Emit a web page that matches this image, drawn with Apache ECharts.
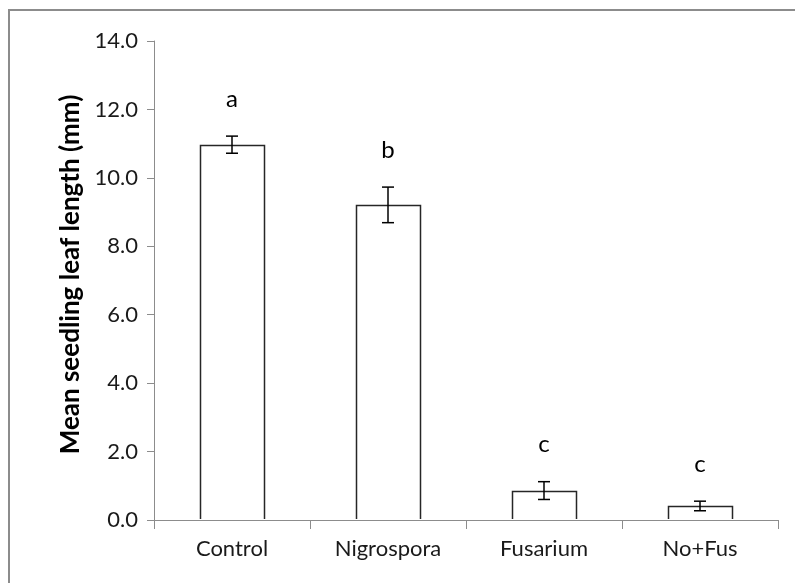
<!DOCTYPE html>
<html>
<head>
<meta charset="utf-8">
<script src="https://cdn.jsdelivr.net/npm/echarts@6/dist/echarts.min.js"></script>
<style>
html,body{margin:0;padding:0;background:#fff;}
#frame{position:absolute;left:8px;top:9px;width:800px;height:600px;border:2px solid #8c8c8c;box-sizing:border-box;}
#chart{position:absolute;left:0;top:0;width:795px;height:583px;}
</style>
</head>
<body>
<div id="frame"></div>
<div id="chart"></div>
<script>
const categories = ['Control', 'Nigrospora', 'Fusarium', 'No+Fus'];
const means = [10.97, 9.21, 0.86, 0.41];
const errors = [0.25, 0.52, 0.26, 0.14];
const letters = ['a', 'b', 'c', 'c'];
const yTicks = [0, 2, 4, 6, 8, 10, 12, 14];

const FONT = 'Lato';
const chart = echarts.init(document.getElementById('chart'), null, {renderer: 'canvas'});

const option = {
  animation: false,
  backgroundColor: 'transparent',
  grid: {left: 154, right: 17, top: 41, bottom: 63, containLabel: false},
  xAxis: {
    type: 'category',
    data: categories,
    axisLine: {lineStyle: {color: '#8c8c8c', width: 1}},
    axisTick: {show: true, length: 9, lineStyle: {color: '#8c8c8c'}, alignWithLabel: false},
    axisLabel: {color: '#1a1a1a', fontFamily: FONT, fontSize: 22, margin: 18}
  },
  yAxis: {
    type: 'value',
    min: yTicks[0],
    max: yTicks[yTicks.length - 1],
    interval: 2,
    name: 'Mean seedling leaf length (mm)',
    nameLocation: 'middle',
    nameGap: 70,
    nameTextStyle: {color: '#000', fontFamily: FONT, fontSize: 26, fontWeight: 'bold', padding: [0, 0, 0, 12]},
    axisLine: {show: true, lineStyle: {color: '#8c8c8c', width: 1}},
    axisTick: {show: true, length: 7, lineStyle: {color: '#8c8c8c'}},
    splitLine: {show: false},
    axisLabel: {color: '#1a1a1a', fontFamily: FONT, fontSize: 22, margin: 16,
      formatter: v => v.toFixed(1)}
  },
  series: [
    {
      type: 'custom',
      data: means.map((m, i) => [i, m]),
      renderItem: function (params, api) {
        const top = api.coord([api.value(0), api.value(1)]);
        const base = api.coord([api.value(0), 0]);
        const band = api.size([1, 0])[0];
        const hw = band * 0.406 / 2;
        const x0 = Math.round(top[0] - hw) + 0.5, x1 = Math.round(top[0] + hw) + 0.5;
        const yt = Math.round(top[1]) + 0.5, yb = base[1] - 1;
        return {
          type: 'group',
          children: [
            {type: 'rect', shape: {x: x0, y: yt, width: x1 - x0, height: yb - yt}, style: {fill: '#fff'}},
            {type: 'polyline', shape: {points: [[x0, yb], [x0, yt], [x1, yt], [x1, yb]]},
              style: {stroke: '#262626', lineWidth: 1.5, fill: null}}
          ]
        };
      },
      z: 2
    },
    {
      type: 'custom',
      data: means.map((m, i) => [i, m - errors[i], m + errors[i]]),
      renderItem: function (params, api) {
        const x = api.value(0);
        const lo = api.coord([x, api.value(1)]);
        const hi = api.coord([x, api.value(2)]);
        const w = 6;
        const style = {stroke: '#000', lineWidth: 1.5};
        return {
          type: 'group',
          children: [
            {type: 'line', shape: {x1: lo[0], y1: lo[1], x2: hi[0], y2: hi[1]}, style},
            {type: 'line', shape: {x1: lo[0] - w, y1: lo[1], x2: lo[0] + w, y2: lo[1]}, style},
            {type: 'line', shape: {x1: hi[0] - w, y1: hi[1], x2: hi[0] + w, y2: hi[1]}, style}
          ]
        };
      },
      z: 5
    },
    {
      type: 'custom',
      data: means.map((m, i) => [i, m + errors[i], letters[i]]),
      renderItem: function (params, api) {
        const p = api.coord([api.value(0), api.value(1)]);
        return {
          type: 'text',
          x: p[0], y: p[1] - 25,
          style: {text: letters[params.dataIndex], fill: '#000', font: '24px ' + FONT,
            textAlign: 'center', textVerticalAlign: 'bottom'}
        };
      },
      z: 6
    }
  ]
};
chart.setOption(option);
</script>
</body>
</html>
